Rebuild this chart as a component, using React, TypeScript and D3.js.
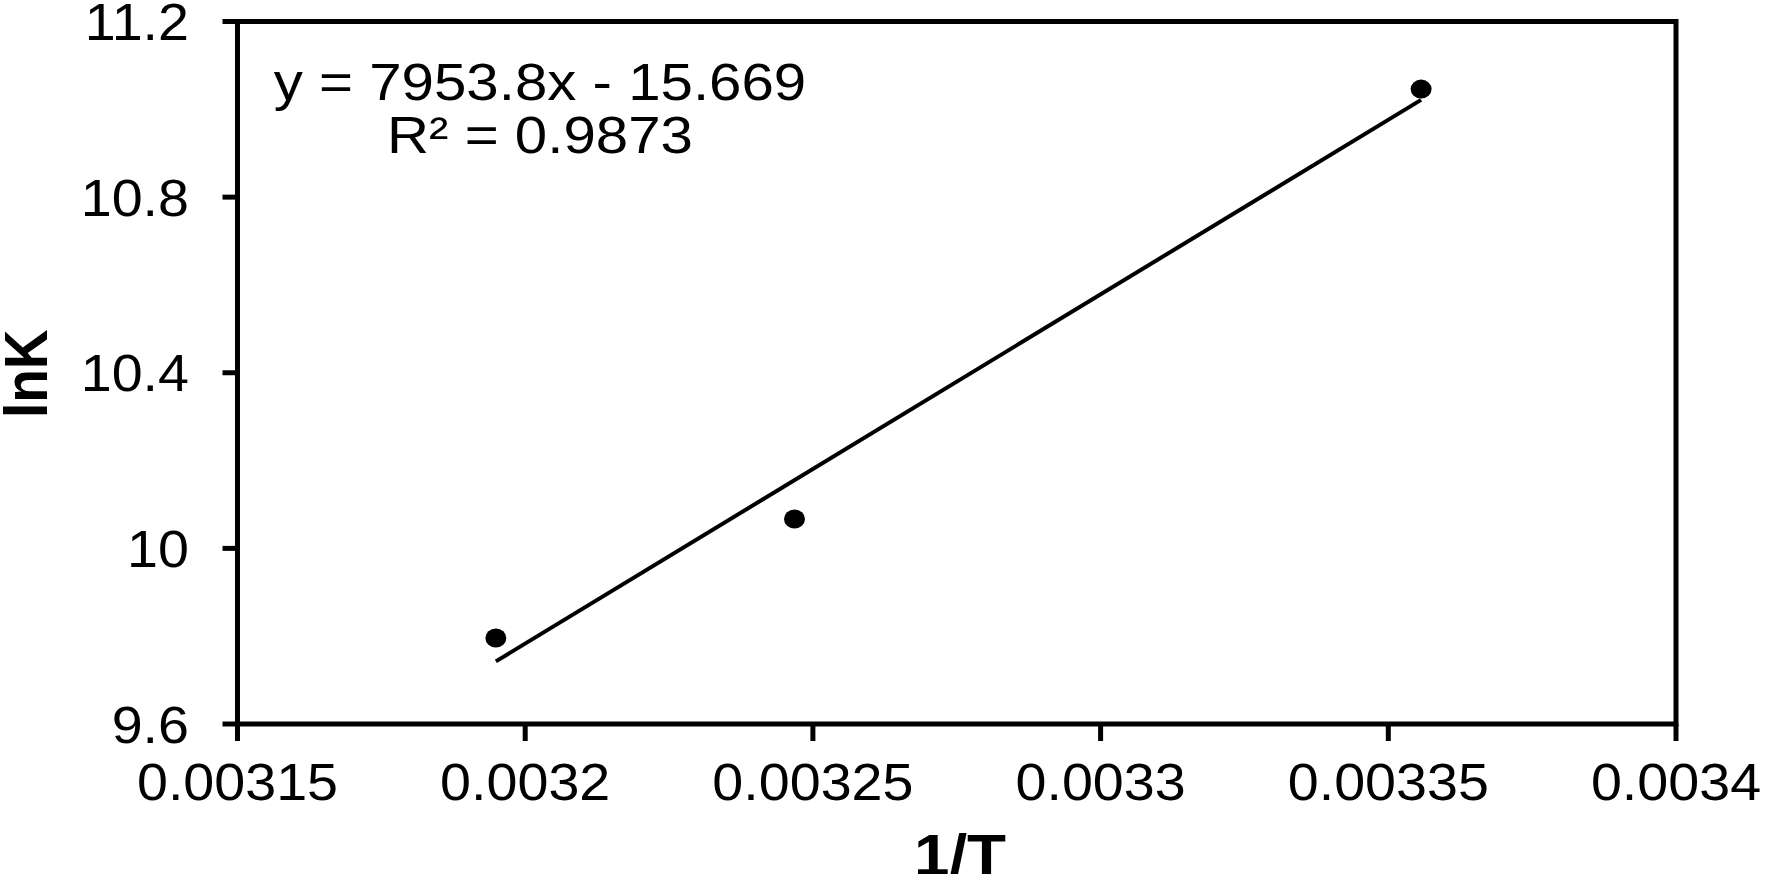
import React from "react";
import * as d3 from "d3";

const invT = [0.0031949, 0.0032468, 0.0033557];
const lnK = [9.796, 10.067, 11.046];
const xTicks = [0.00315, 0.0032, 0.00325, 0.0033, 0.00335, 0.0034];
const xTickLabels = ["0.00315", "0.0032", "0.00325", "0.0033", "0.00335", "0.0034"];
const yTicks = [9.6, 10, 10.4, 10.8, 11.2];
const yTickLabels = ["9.6", "10", "10.4", "10.8", "11.2"];
const slope = 7953.8;
const intercept = -15.669;
const eqLines = ["y = 7953.8x - 15.669", "R\u00B2 = 0.9873"];
const xTitle = "1/T";
const yTitle = "lnK";

const W = 1769;
const H = 874;
const FONT = "'Liberation Sans', Arial, sans-serif";

export default function App() {
  const x = d3.scaleLinear().domain([0.00315, 0.0034]).range([237.5, 1676]);
  const y = d3.scaleLinear().domain([9.6, 11.2]).range([724, 21.5]);
  const x0 = x.range()[0], x1 = x.range()[1];
  const y0 = y.range()[0], y1 = y.range()[1];
  const xmin = d3.min(invT)!, xmax = d3.max(invT)!;
  const fit = (v: number) => slope * v + intercept;
  const lineGen = d3.line<number>().x((d) => x(d)).y((d) => y(fit(d)));
  const sw = 5;

  return (
    <svg
      width={W}
      height={H}
      style={{ position: "absolute", left: 0, top: 0, background: "#fff" }}
      fontFamily={FONT}
    >
      <rect x={0} y={0} width={W} height={H} fill="#fff" />
      {/* frame */}
      <rect
        x={x0}
        y={y1}
        width={x1 - x0}
        height={y0 - y1}
        fill="none"
        stroke="#000"
        strokeWidth={sw}
      />
      {/* y ticks */}
      {yTicks.map((t, i) => (
        <g key={"yt" + i}>
          <line x1={x0 - 15} x2={x0} y1={y(t)} y2={y(t)} stroke="#000" strokeWidth={sw} />
          <g transform={`translate(189,${y(t) + 18.5}) scale(1.07,1)`}>
            <text x={0} y={0} textAnchor="end" fontSize={52} fill="#000">
              {yTickLabels[i]}
            </text>
          </g>
        </g>
      ))}
      {/* x ticks */}
      {xTicks.map((t, i) => (
        <g key={"xt" + i}>
          <line x1={x(t)} x2={x(t)} y1={y0} y2={y0 + 17} stroke="#000" strokeWidth={sw} />
          <g transform={`translate(${x(t)},800) scale(1.07,1)`}>
            <text x={0} y={0} textAnchor="middle" fontSize={52} fill="#000">
              {xTickLabels[i]}
            </text>
          </g>
        </g>
      ))}
      {/* trendline */}
      <path d={lineGen([xmin, xmax]) || ""} fill="none" stroke="#000" strokeWidth={4} />
      {/* points */}
      {invT.map((v, i) => (
        <ellipse key={"p" + i} cx={x(v)} cy={y(lnK[i])} rx={10.5} ry={9.5} fill="#000" />
      ))}
      {/* equation */}
      {eqLines.map((s, i) => (
        <g key={"eq" + i} transform={`translate(540,${100 + i * 53}) scale(1.12,1)`}>
          <text x={0} y={0} textAnchor="middle" fontSize={52} fill="#000">
            {s}
          </text>
        </g>
      ))}
      {/* axis titles */}
      <g transform={`translate(960,875) scale(1.1,1)`}>
        <text x={0} y={0} textAnchor="middle" fontSize={58} fontWeight="bold" fill="#000">
          {xTitle}
        </text>
      </g>
      <g transform={`translate(47,${(y0 + y1) / 2 + 1}) scale(1.12,1) rotate(-90)`}>
        <text x={0} y={0} textAnchor="middle" fontSize={55} fontWeight="bold" fill="#000">
          {yTitle}
        </text>
      </g>
    </svg>
  );
}
